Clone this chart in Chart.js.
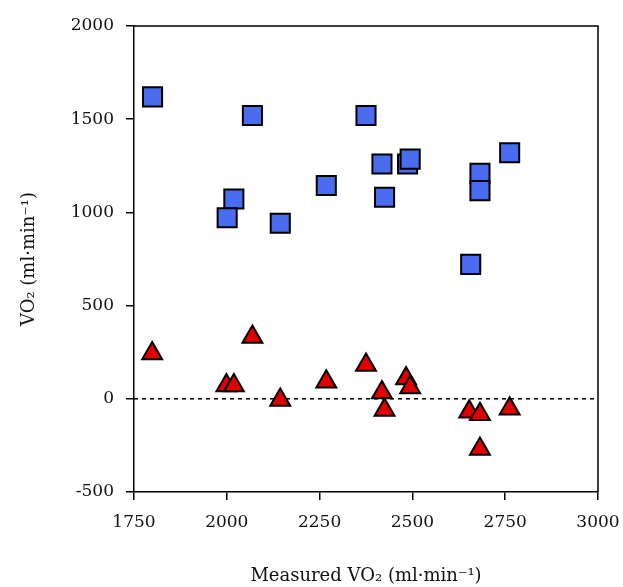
<!DOCTYPE html>
<html>
<head>
<meta charset="utf-8">
<script src="https://cdn.jsdelivr.net/npm/chart.js@4"></script>
<style>
html,body{margin:0;padding:0;background:#fff;}
#wrap{width:623px;height:587px;}
</style>
</head>
<body>
<div id="wrap"><canvas id="c" width="623" height="587"></canvas></div>
<script>
const measured = [1800, 2069, 2375, 2019, 2001, 2144, 2268, 2418, 2425, 2487, 2494, 2682, 2682, 2762, 2657];
const squareVals = [1620, 1520, 1520, 1072, 971, 942, 1144, 1260, 1081, 1260, 1286, 1210, 1117, 1320, 721];
const triMeasured = [1799, 2069, 1999, 2019, 2144, 2268, 2375, 2418, 2425, 2483, 2494, 2653, 2682, 2682, 2762];
const triVals = [243, 332, 72, 72, -6, 92, 181, 34, -60, 109, 60, -69, -83, -269, -54];
const xTicks = [1750, 2000, 2250, 2500, 2750, 3000];
const yTicks = [-500, 0, 500, 1000, 1500, 2000];
const zeroLine = [[1750, 0], [3000, 0]];

const sq = measured.map((x, i) => ({x, y: squareVals[i]}));
const tr = triMeasured.map((x, i) => ({x, y: triVals[i]}));
const zl = zeroLine.map(p => ({x: p[0], y: p[1]}));

const boxPlugin = {
  id: 'box',
  afterDraw(chart) {
    const a = chart.chartArea, ctx = chart.ctx;
    ctx.save();
    ctx.strokeStyle = '#000';
    ctx.lineWidth = 1.5;
    ctx.beginPath();
    ctx.moveTo(a.left, a.top);
    ctx.lineTo(a.right, a.top);
    ctx.lineTo(a.right, a.bottom);
    ctx.stroke();
    ctx.restore();
  }
};

const fontTick = {family: 'DejaVu Serif', size: 17};
const fontTitle = {family: 'DejaVu Serif', size: 18};

new Chart(document.getElementById('c'), {
  type: 'scatter',
  data: {
    datasets: [
      {
        type: 'line', data: zl, borderColor: '#000', borderWidth: 1.5,
        borderDash: [4, 4], pointRadius: 0, fill: false, order: 3
      },
      {
        data: tr, pointStyle: 'triangle', pointRadius: 11.5,
        backgroundColor: '#e00000', borderColor: '#000', borderWidth: 2, order: 2
      },
      {
        data: sq, pointStyle: 'rect', pointRadius: 13.5,
        backgroundColor: '#4a6cf0', borderColor: '#000', borderWidth: 2, order: 1
      }
    ]
  },
  options: {
    responsive: false,
    animation: false,
    devicePixelRatio: 1,
    layout: {padding: {top: 26, right: 25, left: 0, bottom: 0}},
    plugins: {legend: {display: false}, tooltip: {enabled: false}},
    scales: {
      x: {
        type: 'linear', min: 1750, max: 3000,
        afterBuildTicks(s) { s.ticks = xTicks.map(v => ({value: v})); },
        afterFit(s) { s.height = 95; s.paddingRight = 0; s.paddingLeft = 0; },
        grid: {drawOnChartArea: false, drawTicks: true, tickLength: 8, color: '#000', lineWidth: 1.5},
        border: {display: true, color: '#000', width: 1.5},
        ticks: {color: '#111', font: fontTick, padding: 12, maxRotation: 0, callback: v => String(v)},
        title: {display: true, text: 'Measured VO\u2082 (ml\u00b7min\u207b\u00b9)', color: '#111', font: fontTitle, padding: {top: 18, bottom: 0}}
      },
      y: {
        type: 'linear', min: -500, max: 2000,
        afterBuildTicks(s) { s.ticks = yTicks.map(v => ({value: v})); },
        afterFit(s) { s.width = 134; },
        grid: {drawOnChartArea: false, drawTicks: true, tickLength: 8, color: '#000', lineWidth: 1.5},
        border: {display: true, color: '#000', width: 1.5},
        ticks: {color: '#111', font: fontTick, padding: 12, callback: v => String(v)},
        title: {display: true, text: 'VO\u2082 (ml\u00b7min\u207b\u00b9)', color: '#111', font: fontTitle, padding: {top: 19, bottom: 0}}
      }
    }
  },
  plugins: [boxPlugin]
});
</script>
</body>
</html>
